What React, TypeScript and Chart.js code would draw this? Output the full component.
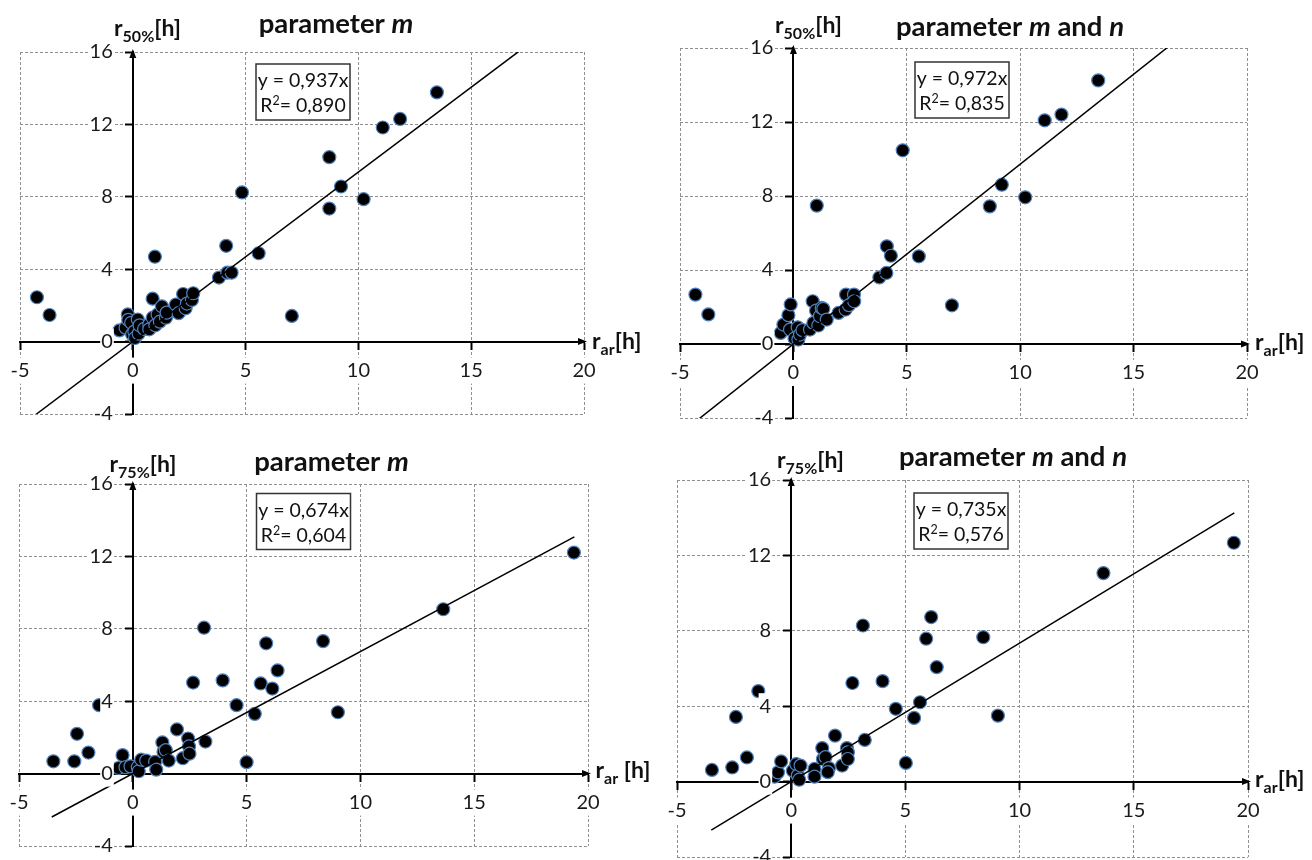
import React, { useEffect, useRef } from "react";
import { Chart, registerables } from "chart.js";

Chart.register(...registerables);

const FONT = "Lato, 'Open Sans', sans-serif";

// ---------- data ----------
const xRange = [-5, 20];
const yRange = [-4, 16];
const xStep = 5;
const yStep = 4;

// r50%, parameter m
const a50mX = [-4.25, -3.69, -0.59, -0.32, -0.22, -0.2, -0.07, -0.03, 0.07, 0.1, 0.22, 0.26, 0.3, 0.5, 0.73, 0.73, 0.88, 0.88, 0.98, 1.0, 1.1, 1.2, 1.29, 1.47, 1.5, 1.91, 2.03, 2.23, 2.34, 2.4, 2.62, 2.68, 3.82, 4.19, 4.38, 4.14, 4.84, 5.58, 7.05, 8.71, 8.71, 9.23, 10.23, 11.08, 11.85, 13.48];
const a50mY = [2.45, 1.47, 0.62, 0.77, 1.5, 1.2, 1.04, 0.4, 0.55, 0.2, 1.22, 0.44, 0.9, 0.7, 0.95, 0.68, 1.32, 2.37, 4.69, 0.9, 1.5, 1.1, 1.95, 1.32, 1.6, 2.05, 1.57, 2.63, 1.84, 2.1, 2.3, 2.67, 3.54, 3.81, 3.81, 5.29, 8.24, 4.88, 1.42, 7.35, 10.19, 8.57, 7.87, 11.83, 12.3, 13.77];

// r50%, parameter m and n
const a50mnX = [-4.32, -3.75, -0.56, -0.44, -0.22, -0.12, -0.15, 0.05, 0.19, 0.22, 0.29, 0.4, 0.73, 0.85, 0.88, 1.0, 1.03, 1.1, 1.17, 1.25, 1.32, 1.47, 1.99, 2.3, 2.32, 2.45, 2.67, 2.68, 3.79, 4.1, 4.12, 4.3, 4.82, 5.53, 6.99, 8.66, 9.19, 10.22, 11.08, 11.82, 13.44];
const a50mnY = [2.67, 1.6, 0.6, 1.05, 1.56, 2.14, 0.78, 0.3, 0.9, 0.24, 0.51, 0.75, 0.78, 2.31, 1.14, 1.8, 7.48, 1.0, 1.5, 1.95, 1.9, 1.32, 1.68, 1.86, 2.67, 2.1, 2.67, 2.31, 3.6, 3.84, 5.28, 4.77, 10.47, 4.74, 2.09, 7.44, 8.61, 7.93, 12.09, 12.4, 14.25];

// r75%, parameter m
const a75mX = [-3.49, -2.57, -2.45, -1.95, -1.48, -0.63, -0.45, -0.32, -0.1, 0.22, 0.26, 0.37, 0.59, 0.98, 1.03, 1.3, 1.35, 1.45, 1.58, 1.94, 2.2, 2.43, 2.47, 2.49, 2.65, 3.13, 3.19, 3.95, 4.56, 5.0, 5.36, 5.62, 5.86, 6.13, 6.36, 8.36, 9.01, 13.64, 19.38];
const a75mY = [0.68, 0.68, 2.2, 1.16, 3.78, 0.31, 1.02, 0.35, 0.4, 0.35, 0.13, 0.77, 0.72, 0.65, 0.22, 1.72, 1.2, 1.3, 0.72, 2.44, 0.85, 1.94, 1.5, 1.1, 5.03, 8.06, 1.77, 5.15, 3.78, 0.63, 3.3, 4.98, 7.2, 4.7, 5.7, 7.32, 3.39, 9.08, 12.21];

// r75%, parameter m and n
const a75mnX = [-3.47, -2.58, -2.42, -1.94, -1.44, -0.73, -0.58, -0.44, 0.07, 0.22, 0.29, 0.41, 0.35, 1.02, 1.02, 1.36, 1.39, 1.5, 1.65, 1.6, 1.92, 2.23, 2.44, 2.48, 2.48, 2.68, 3.14, 3.22, 4.0, 4.58, 5.02, 5.38, 5.64, 5.91, 6.13, 6.37, 8.41, 9.05, 13.67, 19.38];
const a75mnY = [0.62, 0.75, 3.43, 1.28, 4.8, 0.26, 0.49, 1.07, 0.58, 0.93, 0.32, 0.85, 0.1, 0.67, 0.26, 1.78, 1.2, 1.3, 0.72, 0.5, 2.44, 0.85, 1.78, 1.55, 1.2, 5.23, 8.28, 2.21, 5.33, 3.86, 0.99, 3.38, 4.21, 7.58, 8.73, 6.07, 7.66, 3.5, 11.06, 12.67];

// regression slopes, R², and the x-extent of each fitted line
const slopes = [0.937, 0.972, 0.674, 0.735];
const slopeLabels = ["0,937", "0,972", "0,674", "0,735"];
const r2Labels = ["0,890", "0,835", "0,604", "0,576"];
const trendStartX = [-4.3, -4.3, -3.56, -3.5];
const trendEndX = [17.1, 16.6, 19.4, 19.4];

// ---------- layout (page pixels) ----------
type Area = { l: number; r: number; t: number; b: number };
type Run = { t: string; f: string; dy?: number };

const PAD = { left: 60, top: 80, right: 90, bottom: 45 };
const Y_LABEL_GAP = 20;

type PanelCfg = {
  xs: number[];
  ys: number[];
  idx: number;
  area: Area;
  title: Run[];
  titlePos: [number, number];
  yTitle: Run[];
  yTitlePos: [number, number];
  xTitle: Run[];
  xTitlePos: [number, number];
  boxPos: [number, number];
};

const TB = `bold 27.5px ${FONT}`;
const TBI = `italic bold 27.5px ${FONT}`;
const AB = `bold 23px ${FONT}`;
const AS = `bold 16px ${FONT}`;

const titleM: Run[] = [{ t: "parameter ", f: TB }, { t: "m", f: TBI }];
const titleMN: Run[] = [
  { t: "parameter ", f: TB },
  { t: "m", f: TBI },
  { t: " and ", f: TB },
  { t: "n", f: TBI },
];
const yT = (sub: string): Run[] => [
  { t: "r", f: AB },
  { t: sub, f: AS, dy: 6 },
  { t: "[h]", f: AB },
];
const xT = (gap: string): Run[] => [
  { t: "r", f: AB },
  { t: "ar", f: AS, dy: 6 },
  { t: gap + "[h]", f: AB },
];

const panels: PanelCfg[] = [
  {
    xs: a50mX, ys: a50mY, idx: 0,
    area: { l: 20, r: 584, t: 52, b: 414 },
    title: titleM, titlePos: [336, 33],
    yTitle: yT("50%"), yTitlePos: [114, 36],
    xTitle: xT(""), xTitlePos: [592, 349],
    boxPos: [256, 64],
  },
  {
    xs: a50mnX, ys: a50mnY, idx: 1,
    area: { l: 680, r: 1247, t: 48, b: 418 },
    title: titleMN, titlePos: [1010, 36],
    yTitle: yT("50%"), yTitlePos: [775, 33],
    xTitle: xT(""), xTitlePos: [1255, 350],
    boxPos: [915, 62],
  },
  {
    xs: a75mX, ys: a75mY, idx: 2,
    area: { l: 18.5, r: 587, t: 483.5, b: 845 },
    title: titleM, titlePos: [331, 470],
    yTitle: yT("75%"), yTitlePos: [109, 471],
    xTitle: xT(" "), xTitlePos: [595, 777],
    boxPos: [256, 493],
  },
  {
    xs: a75mnX, ys: a75mnY, idx: 3,
    area: { l: 677, r: 1248, t: 480, b: 857 },
    title: titleMN, titlePos: [1013, 466],
    yTitle: yT("75%"), yTitlePos: [777, 468],
    xTitle: xT(""), xTitlePos: [1255, 787],
    boxPos: [914, 493],
  },
];

function drawRuns(ctx: CanvasRenderingContext2D, runs: Run[], x: number, y: number, align: "left" | "center") {
  let total = 0;
  for (const r of runs) {
    ctx.font = r.f;
    total += ctx.measureText(r.t).width;
  }
  let cx = align === "center" ? x - total / 2 : x;
  ctx.textAlign = "left";
  ctx.textBaseline = "alphabetic";
  for (const r of runs) {
    ctx.font = r.f;
    ctx.fillText(r.t, cx, y + (r.dy || 0));
    cx += ctx.measureText(r.t).width;
  }
}

function PanelChart({ cfg }: { cfg: PanelCfg }) {
  const ref = useRef<HTMLCanvasElement>(null);
  const ox = cfg.area.l - PAD.left;
  const oy = cfg.area.t - PAD.top;
  const w = Math.round(cfg.area.r - cfg.area.l + PAD.left + PAD.right);
  const h = Math.round(cfg.area.b - cfg.area.t + PAD.top + PAD.bottom);

  useEffect(() => {
    const i = cfg.idx;
    const points = cfg.xs.map((x, k) => ({ x, y: cfg.ys[k] }));
    const trend = [trendStartX[i], trendEndX[i]].map((x) => ({ x, y: slopes[i] * x }));

    const decor = {
      id: "decor",
      beforeDraw(chart: any) {
        // y tick labels of an axis placed at x = 0 sit flush with the axis; move them left of the tick marks
        const items = chart.scales.y.getLabelItems();
        for (const it of items) {
          if (!it._moved) {
            it.options.translation[0] -= Y_LABEL_GAP;
            it._moved = true;
          }
        }
      },
      afterDraw(chart: any) {
        const ctx: CanvasRenderingContext2D = chart.ctx;
        const ca = chart.chartArea;
        const ax = chart.scales.x.getPixelForValue(0);
        const ay = chart.scales.y.getPixelForValue(0);
        ctx.save();
        ctx.fillStyle = "#000";
        // arrow heads
        ctx.beginPath();
        ctx.moveTo(ax, ca.top - 3);
        ctx.lineTo(ax - 3.5, ca.top + 6);
        ctx.lineTo(ax + 3.5, ca.top + 6);
        ctx.closePath();
        ctx.fill();
        ctx.beginPath();
        ctx.moveTo(ca.right + 3, ay);
        ctx.lineTo(ca.right - 6, ay - 3.5);
        ctx.lineTo(ca.right - 6, ay + 3.5);
        ctx.closePath();
        ctx.fill();
        // titles
        ctx.fillStyle = "#111";
        drawRuns(ctx, cfg.title, cfg.titlePos[0] - ox, cfg.titlePos[1] - oy, "center");
        drawRuns(ctx, cfg.yTitle, cfg.yTitlePos[0] - ox, cfg.yTitlePos[1] - oy, "left");
        drawRuns(ctx, cfg.xTitle, cfg.xTitlePos[0] - ox, cfg.xTitlePos[1] - oy, "left");
        // equation box
        const bx = cfg.boxPos[0] - ox;
        const by = cfg.boxPos[1] - oy;
        const bw = 94;
        const bh = 56;
        ctx.fillStyle = "#fff";
        ctx.fillRect(bx, by, bw, bh);
        ctx.strokeStyle = "#333";
        ctx.lineWidth = 1.5;
        ctx.strokeRect(bx, by, bw, bh);
        ctx.fillStyle = "#111";
        const EF = `19.5px ${FONT}`;
        drawRuns(ctx, [{ t: `y = ${slopeLabels[i]}x`, f: EF }], bx + bw / 2, by + 23, "center");
        drawRuns(
          ctx,
          [
            { t: "R", f: EF },
            { t: "2", f: `12.5px ${FONT}`, dy: -7 },
            { t: `= ${r2Labels[i]}`, f: EF },
          ],
          bx + bw / 2,
          by + 48,
          "center"
        );
        ctx.restore();
      },
    };

    const gridColor = (c: any) => (c.tick && c.tick.value === 0 ? "rgba(0,0,0,0)" : "#8f8f8f");
    const tickFont = { family: FONT, size: 20 };

    const chart = new Chart(ref.current!, {
      type: "scatter",
      data: {
        datasets: [
          {
            type: "line",
            data: trend,
            borderColor: "#000",
            borderWidth: 1.5,
            pointRadius: 0,
            fill: false,
            order: 0,
          } as any,
          {
            type: "scatter",
            data: points,
            backgroundColor: "#000",
            borderColor: "#4f81bd",
            borderWidth: 1.2,
            pointRadius: 6.5,
            order: 1,
          },
        ],
      },
      options: {
        animation: false,
        responsive: false,
        maintainAspectRatio: false,
        layout: { padding: PAD },
        plugins: { legend: { display: false }, tooltip: { enabled: false }, title: { display: false } },
        scales: {
          x: {
            type: "linear",
            min: xRange[0],
            max: xRange[1],
            position: { y: 0 } as any,
            ticks: {
              stepSize: xStep,
              font: tickFont,
              color: "#1a1a1a",
              padding: 10,
              z: 1,
              showLabelBackdrop: true,
              backdropColor: "#fff",
              backdropPadding: 1,
            } as any,
            grid: {
              color: gridColor,
              lineWidth: 1,
              drawTicks: true,
              tickLength: 7,
              tickColor: "#000",
              tickWidth: 2,
              tickBorderDash: [],
            } as any,
            border: { display: true, color: "#000", width: 2, dash: [3, 2] },
          },
          y: {
            type: "linear",
            min: yRange[0],
            max: yRange[1],
            position: { x: 0 } as any,
            ticks: {
              stepSize: yStep,
              font: tickFont,
              color: "#1a1a1a",
              padding: 6,
              z: 1,
              showLabelBackdrop: true,
              backdropColor: "#fff",
              backdropPadding: 1,
            } as any,
            grid: {
              color: gridColor,
              lineWidth: 1,
              drawTicks: true,
              tickLength: 7,
              tickColor: "#000",
              tickWidth: 2,
              tickBorderDash: [],
            } as any,
            border: { display: true, color: "#000", width: 2, dash: [3, 2] },
          },
        },
      },
      plugins: [decor],
    });
    return () => chart.destroy();
  }, []);

  return (
    <canvas
      ref={ref}
      width={w}
      height={h}
      style={{ position: "absolute", left: ox, top: oy, width: w, height: h }}
    />
  );
}

export default function App() {
  return (
    <div
      style={{
        position: "fixed",
        left: 0,
        top: 0,
        width: 1312,
        height: 860,
        overflow: "hidden",
        background: "#fff",
      }}
    >
      {panels.map((p) => (
        <PanelChart key={p.idx} cfg={p} />
      ))}
    </div>
  );
}
